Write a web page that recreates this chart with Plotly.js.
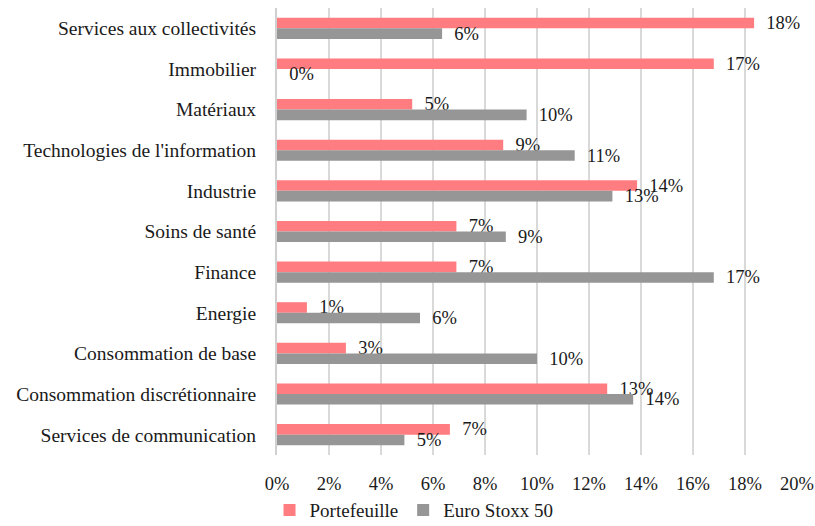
<!DOCTYPE html>
<html>
<head>
<meta charset="utf-8">
<script src="https://cdn.plot.ly/plotly-3.0.1.min.js"></script>
<style>html,body{margin:0;padding:0;background:#fff;}#chart{width:815px;height:526px;}</style>
</head>
<body>
<div id="chart"></div>
<script>
const categories = [
  "Services aux collectivités",
  "Immobilier",
  "Matériaux",
  "Technologies de l'information",
  "Industrie",
  "Soins de santé",
  "Finance",
  "Energie",
  "Consommation de base",
  "Consommation discrétionnaire",
  "Services de communication"
];
const portefeuille = [18.35, 16.8, 5.2, 8.7, 13.85, 6.9, 6.9, 1.15, 2.65, 12.7, 6.65];
const euroStoxx50 = [6.35, 0, 9.6, 11.45, 12.9, 8.8, 16.8, 5.5, 10.0, 13.7, 4.9];
const euroLabels = ["6%", "0%", "10%", "11%", "13%", "9%", "17%", "6%", "10%", "14%", "5%"];
const portLabels = ["18%", "17%", "5%", "9%", "14%", "7%", "7%", "1%", "3%", "13%", "7%"];
const xTickVals = [0, 2, 4, 6, 8, 10, 12, 14, 16, 18, 20];
const xTickText = ["0%", "2%", "4%", "6%", "8%", "10%", "12%", "14%", "16%", "18%", "20%"];

const FONT = "Liberation Serif, DejaVu Serif, serif";
const TXT = "#1a1a1a";
const pad = "\u00a0\u00a0";
const lab = arr => arr.map(s => pad + s);

const traces = [
  {
    type: "bar", orientation: "h", name: "Portefeuille",
    y: categories, x: portefeuille,
    marker: {color: "#FF7C80"},
    text: lab(portLabels), textposition: "outside", cliponaxis: false,
    constraintext: "none",
    textfont: {family: FONT, size: 18.5, color: TXT},
    hoverinfo: "skip"
  },
  {
    type: "bar", orientation: "h", name: "Euro Stoxx 50",
    y: categories, x: euroStoxx50,
    marker: {color: "#969696"},
    text: lab(euroLabels), textposition: "outside", cliponaxis: false,
    constraintext: "none",
    textfont: {family: FONT, size: 18.5, color: TXT},
    hoverinfo: "skip"
  }
];

const layout = {
  width: 815, height: 526,
  margin: {l: 277, r: 18, t: 8, b: 71},
  paper_bgcolor: "#fff", plot_bgcolor: "#fff",
  barmode: "group", bargap: 0.48, bargroupgap: 0,
  font: {family: FONT, size: 18, color: TXT},
  showlegend: true,
  legend: {
    orientation: "h", xref: "container", yref: "container",
    x: 0.508, xanchor: "center", y: 0.03, yanchor: "middle",
    font: {family: FONT, size: 19, color: TXT},
    itemwidth: 30, traceorder: "normal"
  },
  xaxis: {
    range: [0, 20], tickvals: xTickVals, ticktext: xTickText,
    showgrid: true, gridcolor: "#d9d9d9", gridwidth: 1.5,
    zeroline: false, showline: false,
    ticks: "outside", ticklen: 12, tickcolor: "rgba(0,0,0,0)",
    tickfont: {family: FONT, size: 18.5, color: TXT},
    fixedrange: true
  },
  yaxis: {
    type: "category", autorange: "reversed",
    showgrid: false, zeroline: false,
    showline: true, linecolor: "#d0d0d0", linewidth: 2,
    ticks: "outside", ticklen: 15, tickcolor: "rgba(0,0,0,0)",
    tickfont: {family: FONT, size: 19.5, color: TXT},
    fixedrange: true
  }
};

Plotly.newPlot("chart", traces, layout, {displayModeBar: false, staticPlot: true});
</script>
</body>
</html>
